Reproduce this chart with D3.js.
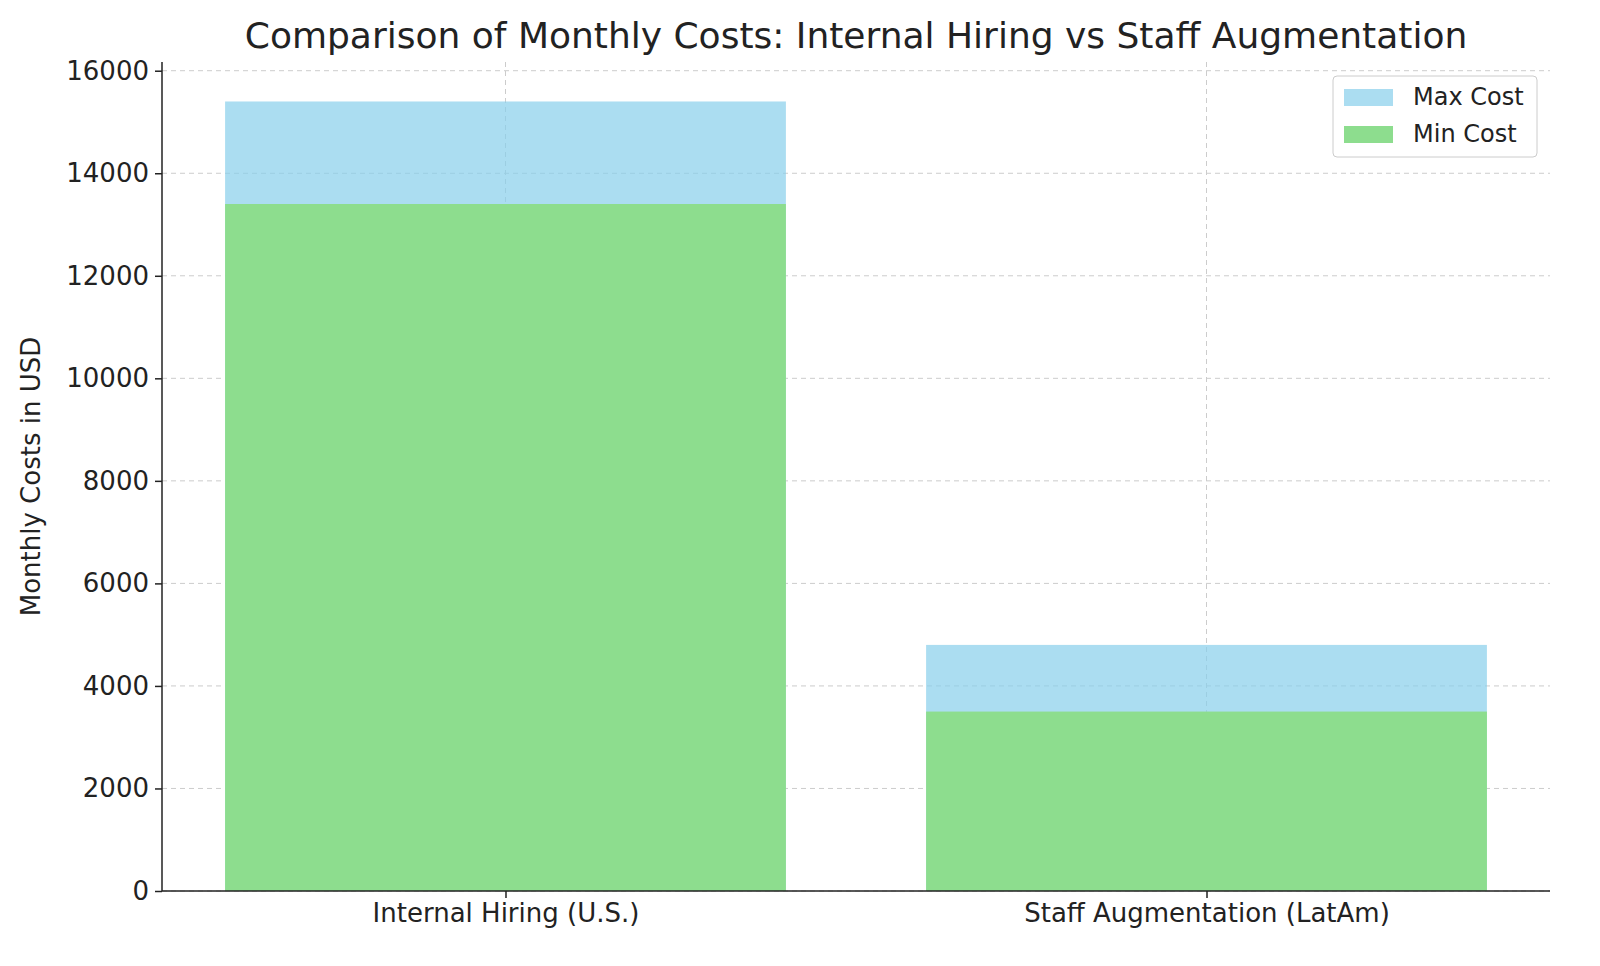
<!DOCTYPE html>
<html><head><meta charset="utf-8">
<script src="https://cdn.jsdelivr.net/npm/d3@7"></script>
<style>body{margin:0;background:#fff}text{font-family:"DejaVu Sans",sans-serif;fill:#222}</style>
</head><body><svg width="1600" height="966"></svg>
<script>
const categories = ["Internal Hiring (U.S.)", "Staff Augmentation (LatAm)"];
const maxCost = [15400, 4800];
const minCost = [13400, 3500];
const yTicks = [0, 2000, 4000, 6000, 8000, 10000, 12000, 14000, 16000];

const svg = d3.select("svg");
const mLeft = 162, mRight = 1550, mTop = 62, mBottom = 891;

const x = d3.scaleLinear().domain([-0.49, 1.49]).range([mLeft, mRight]);
const y = d3.scaleLinear().domain([0, 16170]).range([mBottom, mTop]);
const bw = x(0.8) - x(0);

// grid
svg.append("g").selectAll("line").data(yTicks).join("line")
  .attr("x1", mLeft).attr("x2", mRight).attr("y1", d => y(d)).attr("y2", d => y(d))
  .attr("stroke", "#ccc").attr("stroke-dasharray", "5,4");
svg.append("g").selectAll("line").data(categories).join("line")
  .attr("x1", (d, i) => x(i)).attr("x2", (d, i) => x(i)).attr("y1", mTop).attr("y2", mBottom)
  .attr("stroke", "#ccc").attr("stroke-dasharray", "5,4");

// bars
svg.append("g").selectAll("rect").data(maxCost).join("rect")
  .attr("x", (d, i) => x(i) - bw / 2).attr("width", bw)
  .attr("y", d => y(d)).attr("height", d => mBottom - y(d))
  .attr("fill", "#87ceeb").attr("fill-opacity", 0.7);
svg.append("g").selectAll("rect").data(minCost).join("rect")
  .attr("x", (d, i) => x(i) - bw / 2).attr("width", bw)
  .attr("y", d => y(d)).attr("height", d => mBottom - y(d))
  .attr("fill", "#8ddd8e");

// axes
const yAxis = svg.append("g").attr("transform", `translate(${mLeft},0)`)
  .call(d3.axisLeft(y).tickValues(yTicks).tickSize(7).tickPadding(6).tickFormat(d3.format("d")));
const xAxis = svg.append("g").attr("transform", `translate(0,${mBottom})`)
  .call(d3.axisBottom(x).tickValues([0, 1]).tickSize(7).tickPadding(6).tickFormat(i => categories[i]));
[yAxis, xAxis].forEach(a => {
  a.selectAll("text").style("font-size", "26px").attr("fill", "#222");
  a.selectAll("line,path").attr("stroke", "#222").attr("stroke-width", 1.5);
});
xAxis.select(".domain").attr("d", `M${mLeft},0H${mRight}`);
yAxis.select(".domain").attr("d", `M0,${mBottom}V${mTop}`);

svg.append("text").attr("x", 856).attr("y", 48).attr("text-anchor", "middle")
  .style("font-size", "36px").text("Comparison of Monthly Costs: Internal Hiring vs Staff Augmentation");
svg.append("text").attr("transform", `translate(40,${(mTop + mBottom) / 2}) rotate(-90)`)
  .attr("text-anchor", "middle").style("font-size", "26px").text("Monthly Costs in USD");

// legend
const lg = svg.append("g").attr("transform", "translate(1333,76)");
lg.append("rect").attr("width", 204).attr("height", 81).attr("rx", 4)
  .attr("fill", "#fff").attr("fill-opacity", 0.8).attr("stroke", "#ccc");
[["Max Cost", "#87ceeb", 0.7], ["Min Cost", "#8ddd8e", 1]].forEach(([t, c, o], i) => {
  lg.append("rect").attr("x", 11).attr("y", 13 + i * 37).attr("width", 49).attr("height", 17)
    .attr("fill", c).attr("fill-opacity", o);
  lg.append("text").attr("x", 80).attr("y", 29 + i * 37).style("font-size", "24px").text(t);
});
</script></body></html>
